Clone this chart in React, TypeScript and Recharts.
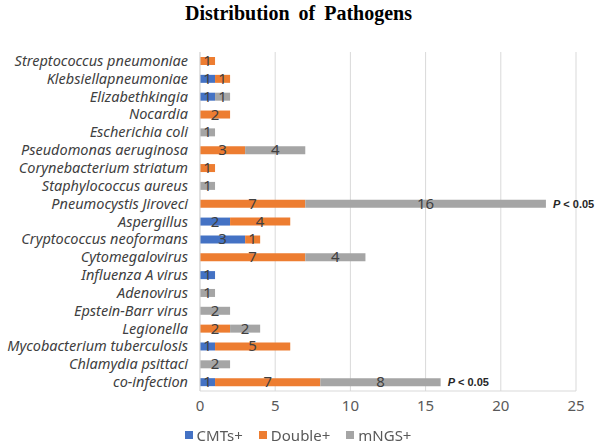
import { Bar, BarChart, CartesianGrid, LabelList, Legend, XAxis, YAxis } from "recharts"

const pathogens = [
  "Streptococcus pneumoniae",
  "Klebsiellapneumoniae",
  "Elizabethkingia",
  "Nocardia",
  "Escherichia coli",
  "Pseudomonas aeruginosa",
  "Corynebacterium striatum",
  "Staphylococcus aureus",
  "Pneumocystis Jiroveci",
  "Aspergillus",
  "Cryptococcus neoformans",
  "Cytomegalovirus",
  "Influenza A virus",
  "Adenovirus",
  "Epstein-Barr virus",
  "Legionella",
  "Mycobacterium tuberculosis",
  "Chlamydia psittaci",
  "co-infection",
]

const cmtsPos = [0, 1, 1, 0, 0, 0, 0, 0, 0, 2, 3, 0, 1, 0, 0, 0, 1, 0, 1]
const doublePos = [1, 1, 0, 2, 0, 3, 1, 0, 7, 4, 1, 7, 0, 0, 0, 2, 5, 0, 7]
const mngsPos = [0, 0, 1, 0, 1, 4, 0, 1, 16, 0, 0, 4, 0, 1, 2, 2, 0, 2, 8]
const pNotes = ["", "", "", "", "", "", "", "", "P < 0.05", "", "", "", "", "", "", "", "", "", "P < 0.05"]

const xTicks = [0, 5, 10, 15, 20, 25]

const data = pathogens.map((name, i) => ({
  name,
  cmts: cmtsPos[i],
  double: doublePos[i],
  mngs: mngsPos[i],
  note: pNotes[i],
}))

const COLORS = { cmts: "#4472C4", double: "#ED7D31", mngs: "#A5A5A5" }

function ValueLabel(props: any) {
  const { x, y, width, height, value } = props
  if (!value) return null
  return (
    <text
      x={x + width / 2}
      y={y + height / 2}
      dy={5}
      textAnchor="middle"
      fill="#404040"
      fontSize={15}
      fontFamily="Noto Sans, sans-serif"
    >
      {value}
    </text>
  )
}

function NoteLabel(props: any) {
  const { x, y, width, height, value } = props
  if (!value) return null
  return (
    <text
      x={x + width + 7}
      y={y + height / 2}
      dy={4}
      fill="#262626"
      fontSize={11}
      fontWeight="bold"
      fontFamily="Liberation Sans, Arial, sans-serif"
    >
      <tspan fontStyle="italic">P</tspan>
      <tspan>{value.slice(1)}</tspan>
    </text>
  )
}

function CategoryTick({ x, y, payload }: any) {
  return (
    <text
      x={x - 4}
      y={y}
      dy={5}
      textAnchor="end"
      fill="#404040"
      fontSize={14.5}
      fontStyle="italic"
      fontFamily="Noto Sans, sans-serif"
    >
      {payload.value}
    </text>
  )
}

function LegendContent({ payload }: any) {
  return (
    <div
      style={{
        display: "flex",
        justifyContent: "center",
        gap: 16,
        paddingLeft: 20,
        fontFamily: "Noto Sans, sans-serif",
        fontSize: 15,
        lineHeight: "16px",
        color: "#595959",
      }}
    >
      {(payload || []).map((p: any) => (
        <div key={p.value} style={{ display: "flex", alignItems: "center", gap: 4 }}>
          <span style={{ width: 8, height: 8, background: p.color, display: "inline-block" }} />
          <span>{p.value}</span>
        </div>
      ))}
    </div>
  )
}

export default function App() {
  return (
    <div style={{ position: "fixed", left: 0, top: 0, width: 597, height: 444, background: "#fff" }}>
      <div
        style={{
          position: "absolute",
          top: 2,
          width: 597,
          textAlign: "center",
          fontFamily: "Liberation Serif, Times New Roman, serif",
          fontWeight: "bold",
          fontSize: 20,
          wordSpacing: 4,
          color: "#000",
        }}
      >
        Distribution of Pathogens
      </div>
      <BarChart
        width={597}
        height={444}
        data={data}
        layout="vertical"
        barSize={8}
        margin={{ top: 52, right: 21, left: 0, bottom: 11 }}
      >
        <CartesianGrid horizontal={false} stroke="#d9d9d9" />
        <XAxis
          type="number"
          domain={[0, 25]}
          ticks={xTicks}
          tickLine={false}
          axisLine={{ stroke: "#d9d9d9" }}
          tick={{ fill: "#595959", fontSize: 15, fontFamily: "Noto Sans, sans-serif" }}
          tickMargin={3}
          height={26}
        />
        <YAxis
          type="category"
          dataKey="name"
          width={200}
          tickLine={false}
          axisLine={{ stroke: "#d9d9d9" }}
          tick={<CategoryTick />}
          interval={0}
        />
        <Legend verticalAlign="bottom" content={<LegendContent />} wrapperStyle={{ bottom: 1 }} />
        <Bar dataKey="cmts" name="CMTs+" stackId="a" fill={COLORS.cmts} isAnimationActive={false}>
          <LabelList dataKey="cmts" content={<ValueLabel />} />
        </Bar>
        <Bar dataKey="double" name="Double+" stackId="a" fill={COLORS.double} isAnimationActive={false}>
          <LabelList dataKey="double" content={<ValueLabel />} />
        </Bar>
        <Bar dataKey="mngs" name="mNGS+" stackId="a" fill={COLORS.mngs} isAnimationActive={false}>
          <LabelList dataKey="mngs" content={<ValueLabel />} />
          <LabelList dataKey="note" content={<NoteLabel />} />
        </Bar>
      </BarChart>
    </div>
  )
}
